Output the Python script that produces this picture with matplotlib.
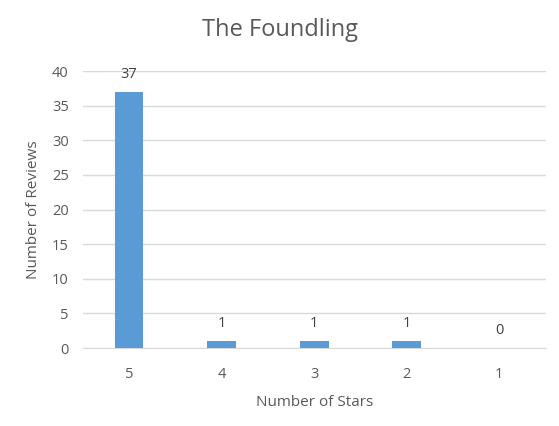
import matplotlib.pyplot as plt
import numpy as np

# star ratings and how many reviews each got
stars = ['5', '4', '3', '2', '1']
reviews = [37, 1, 1, 1, 0]

plt.rcParams['font.family'] = ['Open Sans', 'DejaVu Sans']
text_col = '#595959'

fig = plt.figure(figsize=(5.59, 4.26), dpi=100)
ax = fig.add_axes([0.148, 0.183, 0.828, 0.65])

x = np.arange(len(stars))
bars = ax.bar(x, reviews, width=0.31, color='#5B9BD5', zorder=3)

for xi, v in zip(x, reviews):
    ax.text(xi, v + 1.5, str(v), ha='center', va='bottom', fontsize=10.5, color='#404040')

ax.set_xlim(-0.5, len(stars) - 0.5)
ax.set_ylim(0, 40)
ax.set_yticks(range(0, 41, 5))
ax.set_xticks(x)
ax.set_xticklabels(stars)
ax.yaxis.grid(True, color='#D9D9D9', linewidth=1, zorder=0)
for s in ['top', 'right', 'left']:
    ax.spines[s].set_visible(False)
ax.spines['bottom'].set_color('#D9D9D9')
ax.tick_params(length=0, labelsize=10.5, colors=text_col, pad=10)
ax.tick_params(axis='x', pad=14)

fig.text(0.5, 0.93, 'The Foundling', fontsize=17, color=text_col, ha='center', va='center')
ax.set_xlabel('Number of Stars', fontsize=11, color=text_col, labelpad=9)
ax.set_ylabel('Number of Reviews', fontsize=11, color=text_col, labelpad=8)

fig.savefig('out.png', dpi=100)
